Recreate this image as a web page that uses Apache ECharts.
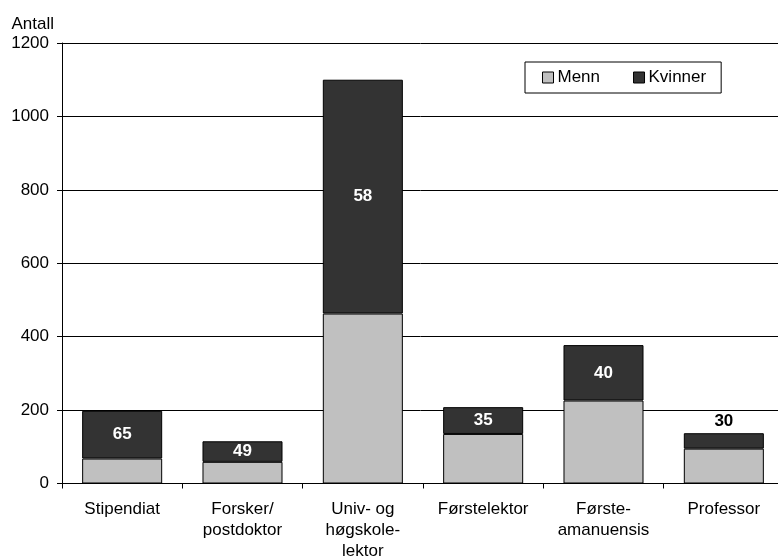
<!DOCTYPE html>
<html><head><meta charset="utf-8">
<script src="https://cdn.jsdelivr.net/npm/echarts@6/dist/echarts.min.js"></script>
<style>html,body{margin:0;padding:0;background:#fff}#c{width:778px;height:558px}</style>
</head><body><div id="c"></div>
<script>
var categories = ['Stipendiat', 'Forsker/\npostdoktor', 'Univ- og\nhøgskole-\nlektor', 'Førstelektor', 'Første-\namanuensis', 'Professor'];
var menn = [68, 59, 463, 135, 226, 95];
var kvinner = [130, 56, 637, 73, 151, 42];
var andelKvinner = [65, 49, 58, 35, 40, 30];
var yTicks = [0, 200, 400, 600, 800, 1000, 1200];

var font = 'Liberation Sans, Arial, sans-serif';
var fs = 17;
var chart = echarts.init(document.getElementById('c'));
chart.setOption({
  animation: false,
  backgroundColor: '#fff',
  textStyle: {fontFamily: font},
  grid: {left: 62, top: 43, bottom: 74.5, right: -6, containLabel: false, outerBoundsMode: 'none'},
  legend: {
    left: 525, top: 62,
    padding: [7, 15, 7, 17],
    borderColor: '#000', borderWidth: 1,
    icon: 'rect',
    itemWidth: 11, itemHeight: 11, itemGap: 33,
    textStyle: {fontSize: fs, color: '#000', fontFamily: font, padding: [0, 0, 0, -1]},
    data: [
      {name: 'Menn', itemStyle: {borderColor: '#000', borderWidth: 1}},
      {name: 'Kvinner', itemStyle: {borderColor: '#000', borderWidth: 1}}
    ]
  },
  xAxis: {
    type: 'category', data: categories,
    axisLine: {lineStyle: {color: '#000', width: 1}},
    axisTick: {show: true, length: 5, lineStyle: {color: '#000'}},
    axisLabel: {fontSize: fs, color: '#000', lineHeight: 21, margin: 15, interval: 0, fontFamily: font}
  },
  yAxis: {
    type: 'value', min: yTicks[0], max: yTicks[yTicks.length - 1], interval: 200,
    name: 'Antall', nameLocation: 'end', nameGap: 10,
    nameTextStyle: {fontSize: fs, color: '#000', align: 'right', padding: [0, 8, 0, 0], fontFamily: font},
    axisLine: {show: true, lineStyle: {color: '#000'}},
    axisTick: {show: true, length: 5, lineStyle: {color: '#000'}},
    axisLabel: {fontSize: fs, color: '#000', margin: 13, fontFamily: font,
      formatter: function (v) { return String(v); }},
    splitLine: {lineStyle: {color: '#000', width: 1}}
  },
  series: [
    {name: 'Menn', type: 'bar', stack: 's', data: menn, barWidth: '66.5%',
     itemStyle: {color: '#c0c0c0', borderColor: '#000', borderWidth: 1}},
    {name: 'Kvinner', type: 'bar', stack: 's', barWidth: '66.5%',
     data: kvinner.map(function (v, i) {
       var d = {value: v};
       if (i === kvinner.length - 1) {
         d.label = {position: 'top', color: '#000', distance: 3};
       }
       return d;
     }),
     itemStyle: {color: '#333333', borderColor: '#000', borderWidth: 1},
     label: {show: true, position: 'inside', color: '#fff', fontWeight: 'bold', fontSize: fs, fontFamily: font,
       formatter: function (p) { return String(andelKvinner[p.dataIndex]); }}}
  ]
});
</script></body></html>
